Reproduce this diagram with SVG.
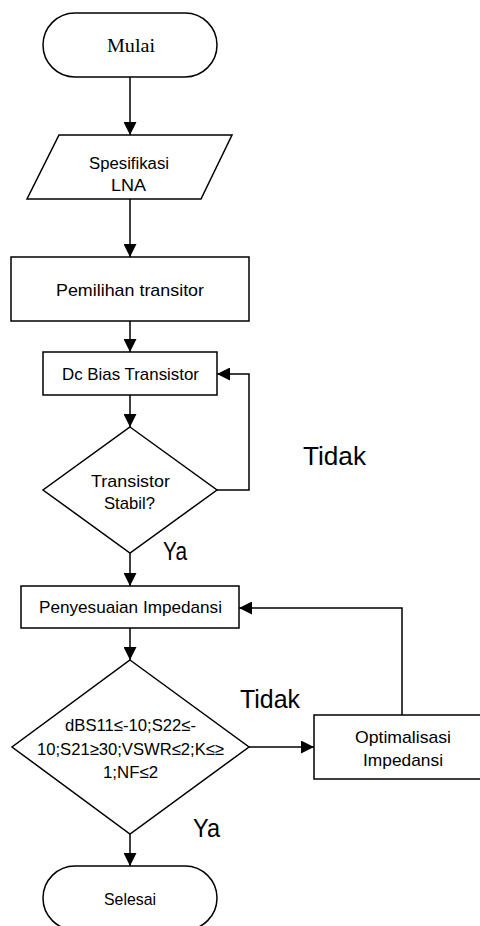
<svg xmlns="http://www.w3.org/2000/svg" width="480" height="926" viewBox="0 0 480 926">
<style>
.s{fill:#fff;stroke:#000;stroke-width:1.5}
.c{fill:none;stroke:#000;stroke-width:1.5;marker-end:url(#ah)}
.t{font-family:"Liberation Sans",Arial,sans-serif;font-size:17px;fill:#000}
.m{font-family:"Liberation Serif","Times New Roman",serif;font-size:19px;fill:#000}
.l{font-family:"Liberation Sans",Arial,sans-serif;font-size:25px;fill:#000}
</style>
<defs>
<marker id="ah" markerUnits="userSpaceOnUse" markerWidth="13" markerHeight="13" refX="13" refY="6.5" orient="auto">
<path d="M0,0 L13,6.5 L0,13 z" fill="#000"/>
</marker>
</defs>
<rect width="480" height="926" fill="#fff"/>
<g id="connectors">
<path class="c" d="M130,77 V135"/>
<path class="c" d="M130,199 V257"/>
<path class="c" d="M130,321 V352"/>
<path class="c" d="M130,395 V427"/>
<path class="c" d="M217,490 H249 V374 H217"/>
<path class="c" d="M130,553 V586"/>
<path class="c" d="M130,628 V660"/>
<path class="c" d="M249,747 H314"/>
<path class="c" d="M402,715 V608 H239"/>
<path class="c" d="M130,834 V866"/>
</g>
<g id="mulai">
<rect class="s" x="43" y="13" width="174" height="64" rx="32" ry="32"/>
<text class="m" x="107" y="52" textLength="48" lengthAdjust="spacingAndGlyphs">Mulai</text>
</g>
<g id="spesifikasi">
<polygon class="s" points="59,135 232,135 201,199 27,199"/>
<text class="t" x="89" y="169" textLength="80" lengthAdjust="spacingAndGlyphs" style="font-size:16px">Spesifikasi</text>
<text class="t" x="111" y="191" textLength="35" lengthAdjust="spacingAndGlyphs" style="font-size:16px">LNA</text>
</g>
<g id="pemilihan">
<rect class="s" x="11" y="257" width="238" height="64"/>
<text class="t" x="56" y="296" textLength="148" lengthAdjust="spacingAndGlyphs">Pemilihan transitor</text>
</g>
<g id="dcbias">
<rect class="s" x="43" y="352" width="174" height="43"/>
<text class="t" x="62" y="380" textLength="137" lengthAdjust="spacingAndGlyphs">Dc Bias Transistor</text>
</g>
<g id="stabil">
<polygon class="s" points="130,427 217,490 130,553 43,490"/>
<text class="t" x="91" y="487" textLength="79" lengthAdjust="spacingAndGlyphs">Transistor</text>
<text class="t" x="104" y="509" textLength="51" lengthAdjust="spacingAndGlyphs">Stabil?</text>
</g>
<g id="label-tidak1">
<text class="l" x="303" y="465" textLength="63" lengthAdjust="spacingAndGlyphs">Tidak</text>
</g>
<g id="label-ya1">
<text class="l" x="163" y="560" textLength="24" lengthAdjust="spacingAndGlyphs">Ya</text>
</g>
<g id="penyesuaian">
<rect class="s" x="21" y="586" width="218" height="42"/>
<text class="t" x="39" y="613" textLength="183" lengthAdjust="spacingAndGlyphs">Penyesuaian Impedansi</text>
</g>
<g id="syarat">
<polygon class="s" points="130,660 249,747 130,834 12,747"/>
<text class="t" x="65" y="731" textLength="131" lengthAdjust="spacingAndGlyphs">dBS11≤-10;S22≤-</text>
<text class="t" x="37" y="755" textLength="187" lengthAdjust="spacingAndGlyphs">10;S21≥30;VSWR≤2;K≤≥</text>
<text class="t" x="103" y="778" textLength="55" lengthAdjust="spacingAndGlyphs">1;NF≤2</text>
</g>
<g id="optimalisasi">
<rect class="s" x="314" y="715" width="170" height="64"/>
<text class="t" x="355" y="743" textLength="96" lengthAdjust="spacingAndGlyphs">Optimalisasi</text>
<text class="t" x="363" y="766" textLength="80" lengthAdjust="spacingAndGlyphs">Impedansi</text>
</g>
<g id="label-tidak2">
<text class="l" x="240" y="708" textLength="60" lengthAdjust="spacingAndGlyphs">Tidak</text>
</g>
<g id="label-ya2">
<text class="l" x="193" y="837" textLength="27" lengthAdjust="spacingAndGlyphs">Ya</text>
</g>
<g id="selesai">
<rect class="s" x="43" y="866" width="174" height="64" rx="32" ry="32"/>
<text class="t" x="104" y="905" textLength="52" lengthAdjust="spacingAndGlyphs">Selesai</text>
</g>
</svg>
